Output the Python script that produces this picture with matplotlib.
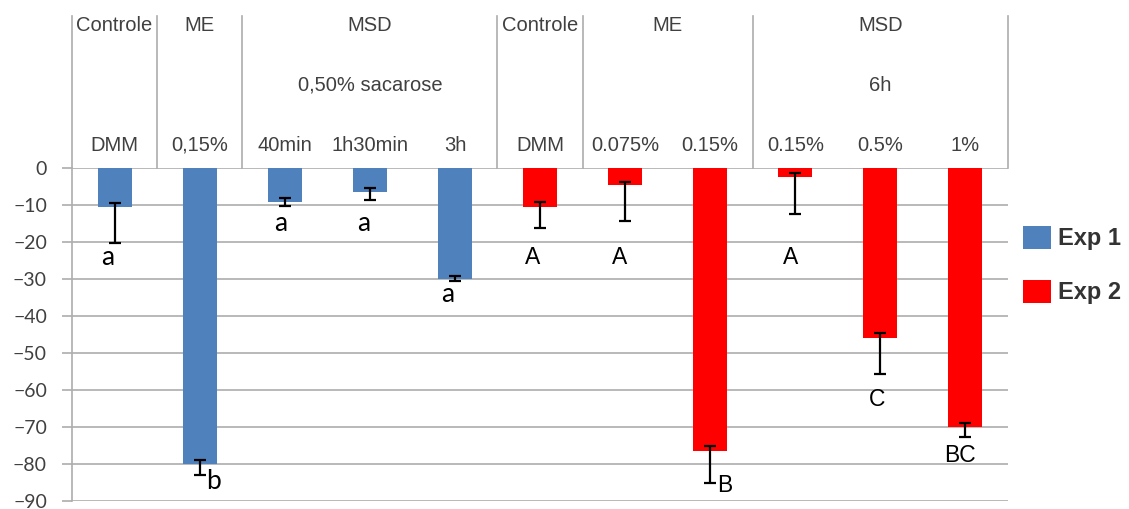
import matplotlib
matplotlib.use("Agg")
import matplotlib.pyplot as plt
from matplotlib.patches import Patch
import numpy as np

# ---- data -------------------------------------------------------------
group_top = ["Controle", "ME", "MSD", "Controle", "ME", "MSD"]
group_mid = ["", "", "0,50% sacarose", "", "", "6h"]
group_span = [(0, 0), (1, 1), (2, 4), (5, 5), (6, 7), (8, 10)]
treatments = ["DMM", "0,15%", "40min", "1h30min", "3h",
              "DMM", "0.075%", "0.15%", "0.15%", "0.5%", "1%"]
series = ["Exp 1"] * 5 + ["Exp 2"] * 6
values = [-10.5, -80.0, -9.1, -6.4, -30.0,
          -10.5, -4.6, -76.4, -2.5, -45.9, -70.0]
err_upper_end = [-9.4, -78.9, -8.2, -5.3, -29.2,
                 -9.1, -3.7, -75.0, -1.3, -44.5, -68.8]
err_lower_end = [-20.3, -83.0, -10.3, -8.6, -30.5,
                 -16.3, -14.3, -85.0, -12.3, -55.7, -72.6]
letters = ["a", "b", "a", "a", "a", "A", "A", "B", "A", "C", "BC"]
# letter placement (x offset from bar centre, y value)
letter_dx = [-0.08, 0.16, -0.05, -0.07, -0.08, -0.09, -0.06, 0.17, -0.06, -0.04, -0.07]
letter_y = [-24.3, -84.6, -14.9, -14.9, -34.3, -24.3, -24.3, -85.7, -24.3, -62.7, -77.6]
yticks = list(range(0, -100, -10))

colors = {"Exp 1": "#4F81BD", "Exp 2": "#FF0000"}
grid_col = "#ADADAD"
text_col = "#404040"

# ---- figure -----------------------------------------------------------
W, H = 1129, 509
fig = plt.figure(figsize=(W / 100, H / 100), dpi=100)
ax = fig.add_axes([72 / W, 1 - 501 / H, (1008 - 72) / W, (501 - 168) / H])

x = np.arange(len(values))
vals = np.array(values)
lo = np.array(err_lower_end)
hi = np.array(err_upper_end)

for s in ["Exp 1", "Exp 2"]:
    idx = np.array([i for i, v in enumerate(series) if v == s])
    ax.bar(x[idx], vals[idx], width=0.4, color=colors[s], zorder=3)
    ax.errorbar(x[idx], vals[idx], yerr=[vals[idx] - lo[idx], hi[idx] - vals[idx]],
                fmt="none", ecolor="black", elinewidth=1.6, capsize=4.3,
                capthick=1.6, zorder=4)

ax.set_xlim(-0.5, len(values) - 0.5)
ax.set_ylim(-90, 0)
ax.set_yticks(yticks)
ax.set_xticks([])
ax.yaxis.grid(True, color=grid_col, linewidth=1.2, zorder=0)
ax.set_axisbelow(True)
for sp in ["top", "right", "bottom"]:
    ax.spines[sp].set_visible(False)
ax.spines["left"].set_color(grid_col)
ax.spines["left"].set_linewidth(1.2)
ax.tick_params(axis="y", length=7, width=1.2, color=grid_col, pad=11,
               labelsize=14, labelcolor=text_col)
for lab in ax.get_yticklabels():
    lab.set_fontfamily(["Lato", "DejaVu Sans"])

# significance letters
for i, (t, dx, yy) in enumerate(zip(letters, letter_dx, letter_y)):
    fam = "Lato" if t.islower() else "Liberation Sans"
    size = 19 if t.islower() else 16.5
    ax.text(i + dx, yy, t, ha="center", va="center", fontsize=size,
            family=fam, color="black", zorder=5)

# header table above the plot
head_top = 41.1
hx = [-0.5] + [b + 0.5 for (_, b) in group_span]
for xv in hx:
    ax.plot([xv, xv], [0, head_top], color=grid_col, linewidth=1.2,
            clip_on=False, zorder=2)
hfont = dict(family="Liberation Sans", fontsize=14.5, color=text_col,
             ha="center", va="center")
for (a, b), top, mid in zip(group_span, group_top, group_mid):
    cx = (a + b) / 2
    ax.text(cx, 38.4, top, clip_on=False, **hfont)
    if mid:
        ax.text(cx, 22.4, mid, clip_on=False, **hfont)
for i, t in enumerate(treatments):
    ax.text(i, 6.2, t, clip_on=False, **hfont)

# legend
handles = [Patch(facecolor=colors[s], edgecolor="none") for s in ["Exp 1", "Exp 2"]]
fig.legend(handles, ["Exp 1", "Exp 2"], loc="upper left",
           bbox_to_anchor=(1023 / W, 1 - 226 / H), frameon=False,
           prop=dict(family="Liberation Sans", weight="bold", size=17),
           labelcolor="#333333", borderpad=0, borderaxespad=0,
           handlelength=1.2, handleheight=1.1, handletextpad=0.3,
           labelspacing=1.25)

fig.savefig("out.png", dpi=100)
